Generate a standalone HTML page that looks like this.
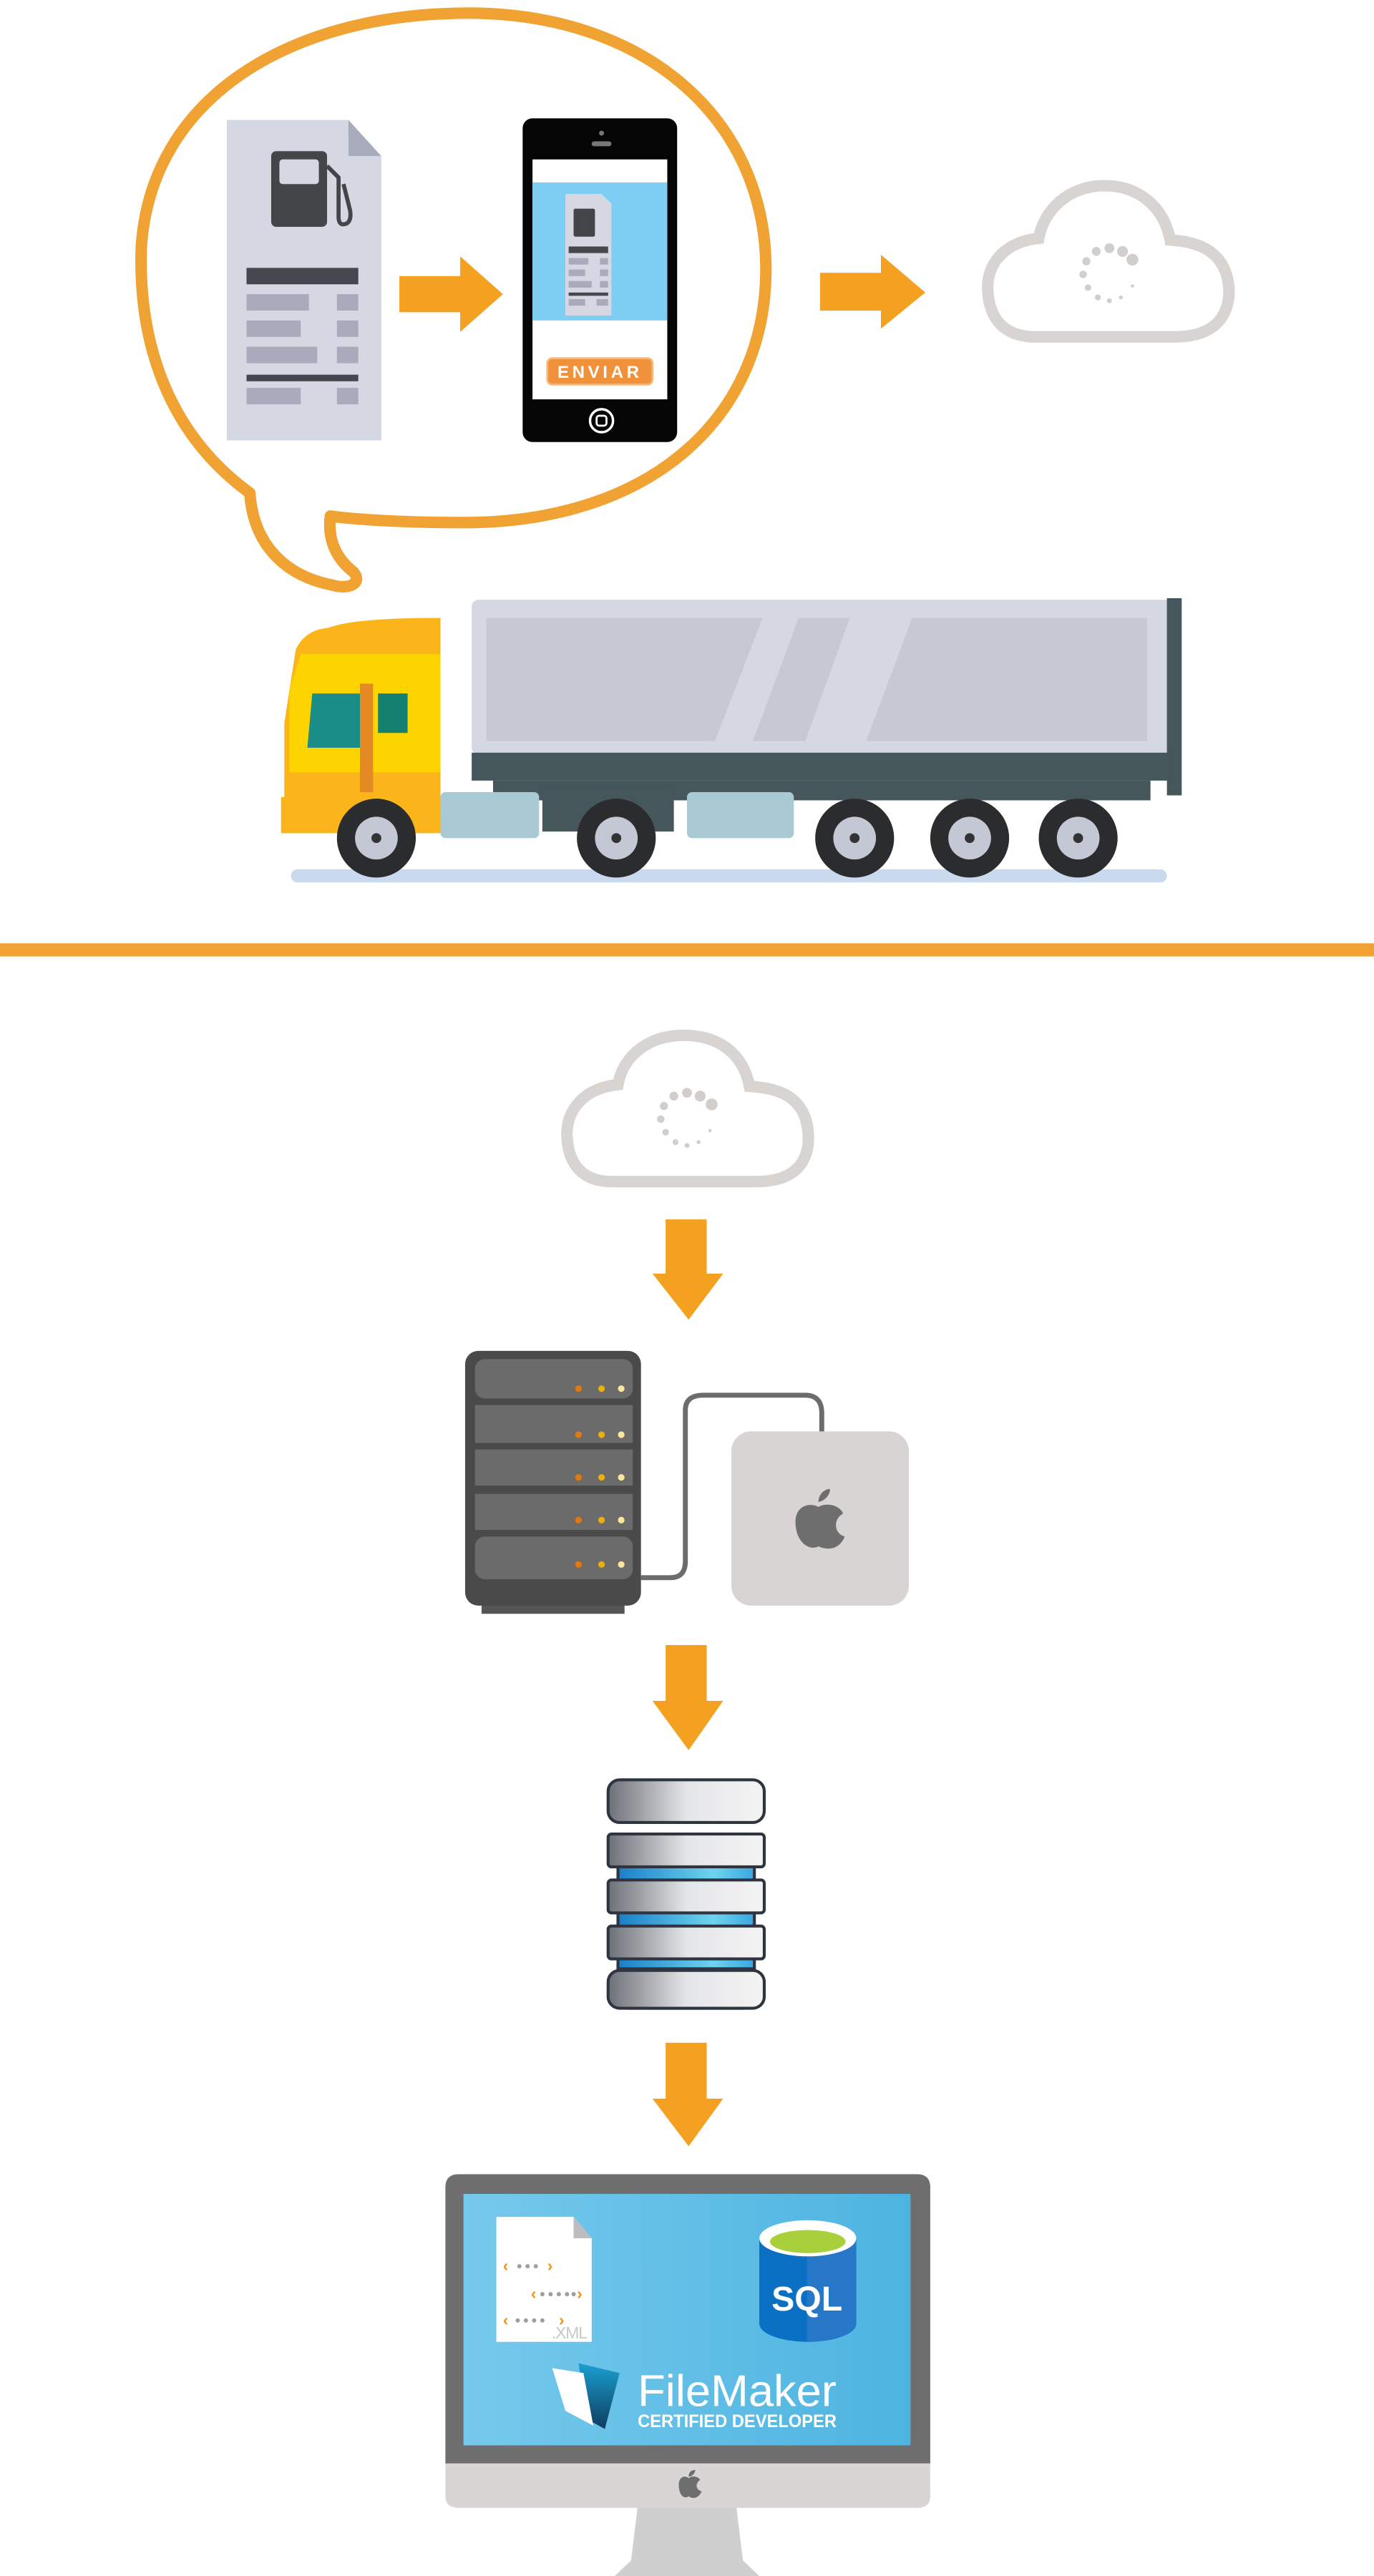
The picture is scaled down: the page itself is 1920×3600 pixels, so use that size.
<!DOCTYPE html>
<html><head><meta charset="utf-8"><style>html,body{margin:0;padding:0;background:#fff}svg{display:block}</style></head>
<body>
<svg width="1920" height="3600" viewBox="0 0 836 1567.5" preserveAspectRatio="none" xmlns="http://www.w3.org/2000/svg" font-family="Liberation Sans, sans-serif">
<defs>
<linearGradient id="scr" x1="0" x2="1"><stop offset="0" stop-color="#76C9EC"/><stop offset="1" stop-color="#4DB4E0"/></linearGradient>
<linearGradient id="dbg" x1="0" x2="1"><stop offset="0" stop-color="#6E7078"/><stop offset="0.5" stop-color="#E4E5E8"/><stop offset="1" stop-color="#F4F4F4"/></linearGradient>
<linearGradient id="dbb" x1="0" x2="1"><stop offset="0" stop-color="#1A7FC8"/><stop offset="0.7" stop-color="#6ED4EE"/><stop offset="1" stop-color="#3AA6E0"/></linearGradient>
<linearGradient id="fm" x1="0" x2="0" y1="0" y2="1"><stop offset="0" stop-color="#1AA0D0"/><stop offset="1" stop-color="#0E3D5E"/></linearGradient>
</defs>
<!-- speech bubble -->
<path d="M152,300 C100,262 84,205 86,150 C92,60 175,9 282,8 C392,7 465,72 466,162 C467,252 398,318 282,318 C245,318 215,316 201,314 C199,330 206,341 215,348 C221,355 212,359 202,356 C172,350 154,330 152,300 Z" fill="none" stroke="#F0A232" stroke-width="7" stroke-linejoin="round"/>
<!-- receipt -->
<path d="M138,73 H212 L232,95 V268 H138 Z" fill="#D5D8E3"/>
<path d="M212,73 L232,95 H212 Z" fill="#A9ACBC"/>
<rect x="165" y="92" width="34" height="46" rx="3" fill="#434549"/>
<rect x="170" y="97" width="24" height="15" rx="2" fill="#D5D8E3"/>
<path d="M199,101 L206,108 V132 Q206,138 211,136 Q214,134 213,128 L209,112" fill="none" stroke="#434549" stroke-width="2.5"/>
<rect x="150" y="163" width="68" height="10" fill="#45474E"/>
<g fill="#A9ABBC"><rect x="150" y="179" width="38" height="10"/><rect x="205" y="179" width="13" height="10"/>
<rect x="150" y="195" width="33" height="10"/><rect x="205" y="195" width="13" height="10"/>
<rect x="150" y="211" width="43" height="10"/><rect x="205" y="211" width="13" height="10"/>
<rect x="150" y="236" width="33" height="10"/><rect x="205" y="236" width="13" height="10"/></g>
<rect x="150" y="228" width="68" height="4" fill="#45474E"/>
<!-- arrow 1 -->
<path d="M243,168 H280 V156 L306,179 L280,202 V190 H243 Z" fill="#F4A020"/>
<!-- phone -->
<rect x="318" y="72" width="94" height="197" rx="6" fill="#050505"/>
<rect x="324" y="97" width="82" height="146" fill="#fff"/>
<rect x="324" y="111" width="82" height="84" fill="#7ECDF2"/>
<circle cx="366" cy="81" r="1.5" fill="#777"/><rect x="360" y="86" width="12" height="3" rx="1.5" fill="#777"/>
<path d="M344,118 H366 L372,124 V192 H344 Z" fill="#D5D8E3"/>
<rect x="349" y="127" width="13" height="17" rx="1" fill="#434549"/>
<rect x="346" y="150" width="24" height="4" fill="#45474E"/>
<g fill="#A9ABBC"><rect x="346" y="157" width="12" height="4"/><rect x="365" y="157" width="5" height="4"/><rect x="346" y="164" width="10" height="4"/><rect x="365" y="164" width="5" height="4"/><rect x="346" y="171" width="14" height="4"/><rect x="365" y="171" width="5" height="4"/><rect x="346" y="182" width="10" height="4"/><rect x="363" y="182" width="7" height="4"/></g>
<rect x="346" y="178" width="24" height="2" fill="#45474E"/>
<rect x="333" y="218" width="64" height="16" rx="3" fill="#F0923B" stroke="#F7B77A" stroke-width="1.2"/>
<text x="365" y="230" font-size="10.5" fill="#fff" text-anchor="middle" letter-spacing="2" font-weight="bold">ENVIAR</text>
<circle cx="366" cy="256" r="7" fill="none" stroke="#fff" stroke-width="1.5"/><rect x="363" y="253" width="6" height="6" rx="1.5" fill="none" stroke="#fff" stroke-width="1.2"/>
<!-- arrow 2 -->
<path d="M499,166 H536 V155 L563,178 L536,200 V189 H499 Z" fill="#F4A020"/>
<!-- cloud top -->
<path d="M630,205 H715 C745,205 750,185 747,170 C743,152 728,147 712,146 C708,125 692,113 672,113 C650,113 635,128 632,145 C612,147 600,160 601,177 C602,195 612,205 630,205 Z" fill="none" stroke="#D8D4D2" stroke-width="7"/>
<g fill="#D2CECC"><circle cx="675" cy="151" r="3"/><circle cx="683" cy="153" r="3.3"/><circle cx="689" cy="158" r="3.6"/><circle cx="667" cy="153" r="2.7"/><circle cx="661" cy="159" r="2.5"/><circle cx="659" cy="167" r="2.3"/><circle cx="662" cy="175" r="2"/><circle cx="668" cy="181" r="1.8"/><circle cx="675" cy="183" r="1.5"/><circle cx="682" cy="181" r="1.2"/><circle cx="689" cy="174" r="1"/></g>
<!-- truck -->
<rect x="177" y="529" width="533" height="8" rx="4" fill="#C9DAEE"/>
<rect x="287" y="365" width="428" height="94" rx="4" fill="#D5D8E2"/>
<path d="M296,376 H464 L435,451 H296 Z" fill="#C6C8D4"/>
<path d="M486,376 H517 L490,451 H458 Z" fill="#C6C8D4"/>
<path d="M555,376 H698 V451 H527 Z" fill="#C6C8D4"/>
<rect x="710" y="364" width="9" height="120" fill="#45575A"/>
<rect x="287" y="458" width="426" height="17" fill="#45575A"/>
<rect x="300" y="475" width="400" height="12" fill="#45575A"/>
<path d="M268,376 V505 H173 V440 L180,395 Q186,383 200,382 Q215,376 268,376 Z" fill="#FBB41A"/>
<path d="M183,398 H268 V470 H176 V420 Z" fill="#FDD300"/>
<path d="M190,422 H220 V455 H187 Z" fill="#1A8E86"/><path d="M230,422 H248 V446 H230 Z" fill="#14806F"/>
<rect x="219" y="416" width="8" height="66" fill="#E48A25"/>
<rect x="171" y="485" width="100" height="22" fill="#FBB41A"/>
<rect x="268" y="482" width="60" height="28" rx="3" fill="#A9CAD5"/>
<rect x="418" y="482" width="65" height="28" rx="3" fill="#A9CAD5"/>
<rect x="330" y="478" width="80" height="28" fill="#45575A"/>
<g><circle cx="229" cy="510" r="24" fill="#2A2C2E"/><circle cx="229" cy="510" r="13" fill="#C3C8D4"/><circle cx="229" cy="510" r="3" fill="#333"/>
<circle cx="375" cy="510" r="24" fill="#2A2C2E"/><circle cx="375" cy="510" r="13" fill="#C3C8D4"/><circle cx="375" cy="510" r="3" fill="#333"/>
<circle cx="520" cy="510" r="24" fill="#2A2C2E"/><circle cx="520" cy="510" r="13" fill="#C3C8D4"/><circle cx="520" cy="510" r="3" fill="#333"/>
<circle cx="590" cy="510" r="24" fill="#2A2C2E"/><circle cx="590" cy="510" r="13" fill="#C3C8D4"/><circle cx="590" cy="510" r="3" fill="#333"/>
<circle cx="656" cy="510" r="24" fill="#2A2C2E"/><circle cx="656" cy="510" r="13" fill="#C3C8D4"/><circle cx="656" cy="510" r="3" fill="#333"/></g>
<!-- divider -->
<rect x="0" y="574" width="836" height="8" fill="#F0A232"/>
<!-- cloud 2 -->
<path d="M372,719 H460 C490,719 494,700 491,684 C487,666 472,662 456,661 C452,640 436,630 416,630 C394,630 379,643 376,660 C356,662 344,675 345,692 C346,710 356,719 372,719 Z" fill="none" stroke="#D8D4D2" stroke-width="7"/>
<g fill="#D2CECC"><circle cx="418" cy="665" r="3"/><circle cx="426" cy="667" r="3.3"/><circle cx="433" cy="672" r="3.6"/><circle cx="410" cy="667" r="2.7"/><circle cx="404" cy="673" r="2.5"/><circle cx="402" cy="681" r="2.3"/><circle cx="405" cy="689" r="2"/><circle cx="411" cy="695" r="1.8"/><circle cx="418" cy="697" r="1.5"/><circle cx="425" cy="695" r="1.2"/><circle cx="432" cy="688" r="1"/></g>
<!-- arrows down -->
<path d="M405,742 H430 V775 H440 L419,803 L397,775 H405 Z" fill="#F4A020"/>
<path d="M405,1001 H430 V1035 H440 L419,1065 L397,1035 H405 Z" fill="#F4A020"/>
<path d="M405,1243 H430 V1277 H440 L419,1306 L397,1277 H405 Z" fill="#F4A020"/>
<!-- server -->
<rect x="293" y="970" width="87" height="12" fill="#555"/>
<rect x="283" y="822" width="107" height="155" rx="8" fill="#4A4A4A"/>
<g fill="#6B6B6B"><rect x="289" y="827" width="96" height="24" rx="6"/><rect x="289" y="855" width="96" height="23"/><rect x="289" y="882" width="96" height="22"/><rect x="289" y="909" width="96" height="22"/><rect x="289" y="935" width="96" height="26" rx="6"/></g>
<g><g fill="#E07A10"><circle cx="352" cy="845" r="2"/><circle cx="352" cy="873" r="2"/><circle cx="352" cy="899" r="2"/><circle cx="352" cy="925" r="2"/><circle cx="352" cy="952" r="2"/></g>
<g fill="#E8B010"><circle cx="366" cy="845" r="2"/><circle cx="366" cy="873" r="2"/><circle cx="366" cy="899" r="2"/><circle cx="366" cy="925" r="2"/><circle cx="366" cy="952" r="2"/></g>
<g fill="#FBE6A0"><circle cx="378" cy="845" r="2"/><circle cx="378" cy="873" r="2"/><circle cx="378" cy="899" r="2"/><circle cx="378" cy="925" r="2"/><circle cx="378" cy="952" r="2"/></g></g>
<path d="M390,960 H408 Q417,960 417,950 V858 Q417,849 428,849 H490 Q500,849 500,860 V872" fill="none" stroke="#6C6C6C" stroke-width="3"/>
<rect x="445" y="871" width="108" height="106" rx="12" fill="#D8D4D3"/>
<path d="M484,926 C484,916 493,914 498,917 C503,914 511,916 513,921 C507,924 507,933 514,935 C511,942 505,944 498,941 C492,944 484,938 484,926 Z M498,914 C498,909 502,906 505,906 C505,910 502,913 498,914 Z" fill="#6E6E6E"/>
<!-- database -->
<g stroke="#2E3440" stroke-width="1.8">
<rect x="376" y="1192" width="83" height="30" rx="6" fill="url(#dbb)"/>
<rect x="376" y="1118" width="83" height="80" fill="url(#dbb)"/>
<rect x="370" y="1083" width="95" height="26" rx="7" fill="url(#dbg)"/>
<rect x="370" y="1116" width="95" height="20" rx="2" fill="url(#dbg)"/>
<rect x="370" y="1144" width="95" height="20" rx="2" fill="url(#dbg)"/>
<rect x="370" y="1172" width="95" height="20" rx="2" fill="url(#dbg)"/>
<rect x="370" y="1199" width="95" height="23" rx="7" fill="url(#dbg)"/>
</g>
<!-- monitor -->
<path d="M388,1525 H448 L452,1558 L462,1567.5 H374 L384,1558 Z" fill="#CFCFCF"/>
<path d="M271,1498 H566 V1519 Q566,1526 558,1526 H279 Q271,1526 271,1519 Z" fill="#D8D6D5"/>
<path d="M279,1323 H558 Q566,1323 566,1331 V1499 H271 V1331 Q271,1323 279,1323 Z" fill="#6E6E6E"/>
<rect x="282" y="1335" width="272" height="153" fill="url(#scr)"/>
<path d="M413,1512 C413,1507 417,1506 419,1508 C421,1506 425,1507 426,1509 C423,1511 423,1515 427,1516 C425,1520 422,1521 419,1519 C416,1521 413,1518 413,1512 Z M419,1507 C419,1504 421,1503 423,1503 C423,1505 421,1507 419,1507 Z" fill="#6E6E6E"/>
<!-- xml doc -->
<path d="M302,1349 H349 L360,1362 V1425 H302 Z" fill="#fff"/>
<path d="M349,1349 L360,1362 H349 Z" fill="#BDBDBD"/>
<g font-size="10" font-weight="bold" fill="#F39220"><text x="306" y="1382">‹</text><text x="333" y="1382">›</text><text x="323" y="1399">‹</text><text x="351" y="1399">›</text><text x="306" y="1415">‹</text><text x="340" y="1415">›</text></g>
<g fill="#9E9E9E"><circle cx="316" cy="1379" r="1.3"/><circle cx="321" cy="1379" r="1.3"/><circle cx="326" cy="1379" r="1.3"/>
<circle cx="330" cy="1396" r="1.3"/><circle cx="335" cy="1396" r="1.3"/><circle cx="340" cy="1396" r="1.3"/><circle cx="345" cy="1396" r="1.3"/><circle cx="349" cy="1396" r="1.3"/>
<circle cx="315" cy="1412" r="1.3"/><circle cx="320" cy="1412" r="1.3"/><circle cx="325" cy="1412" r="1.3"/><circle cx="330" cy="1412" r="1.3"/></g>
<text x="357" y="1429" font-size="10" fill="#C8C8C8" text-anchor="end" letter-spacing="-0.5" transform="translate(0,-6)">.XML</text>
<!-- SQL -->
<path d="M462,1362 V1414 A29.5,11 0 0 0 521,1414 V1362 Z" fill="#0A70C4"/>
<path d="M491,1362 V1425 A29.5,11 0 0 0 521,1414 V1362 Z" fill="#2677C8"/>
<ellipse cx="491.5" cy="1362" rx="29.5" ry="11" fill="#fff"/>
<ellipse cx="491.5" cy="1364" rx="23" ry="7" fill="#A8D03A"/>
<text x="491" y="1406" font-size="21" font-weight="bold" fill="#fff" text-anchor="middle">SQL</text>
<!-- FileMaker -->
<path d="M352,1438 L377,1444 L368,1478 L357,1472 Z" fill="url(#fm)"/>
<path d="M336,1441 L355,1444 L361,1476 L344,1467 Z" fill="#fff"/>
<text x="388" y="1464" font-size="27" fill="#fff" textLength="121" lengthAdjust="spacingAndGlyphs">FileMaker</text>
<text x="388" y="1477" font-size="11" font-weight="bold" fill="#fff" textLength="121" lengthAdjust="spacingAndGlyphs">CERTIFIED DEVELOPER</text>
</svg>
</body></html>
